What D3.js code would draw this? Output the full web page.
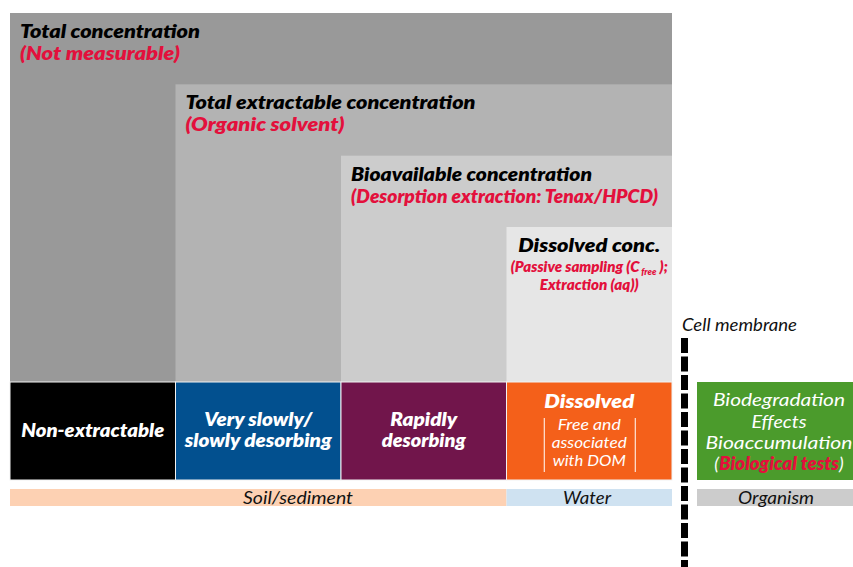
<!DOCTYPE html>
<html>
<head>
<meta charset="utf-8">
<script src="https://cdn.jsdelivr.net/npm/d3@7"></script>
<style>
  body { margin: 0; background: #fff; }
  svg text { font-family: Lato, "Open Sans", sans-serif; font-style: italic; }
</style>
</head>
<body>
<div id="chart"></div>
<script>
// concentration levels (nested grey boxes)
const levelTitles = ["Total concentration", "Total extractable concentration", "Bioavailable concentration", "Dissolved conc."];
const levelMethods = ["(Not measurable)", "(Organic solvent)", "(Desorption extraction: Tenax/HPCD)", null];
const levelFills = ["#999999", "#b3b3b3", "#cccccc", "#e6e6e6"];
const titleWidths = [180, 290, 241, 142];
const methodWidths = [160, 159, 307, null];

// fractions (coloured boxes)
const fractions = ["Non-extractable", "Very slowly/ slowly desorbing", "Rapidly desorbing", "Dissolved"];
const fractionLines = [["Non-extractable"], ["Very slowly/", "slowly desorbing"], ["Rapidly", "desorbing"], ["Dissolved"]];
const fractionLineWidths = [[143], [108, 147], [67, 84], [90]];
const fractionFills = ["#000000", "#02508f", "#71154b", "#f4601a"];
const dissolvedNote = ["Free and", "associated", "with DOM"];
const dissolvedNoteWidths = [63, 75, 73];

// compartments
const compartments = ["Soil/sediment", "Water"];
const compartmentSpan = [[0, 2], [3, 3]];
const compartmentFills = ["#fdd1b3", "#cfe2f1"];
const compartmentWidths = [110, 48];

const organismLines = ["Biodegradation", "Effects", "Bioaccumulation"];
const organismWidths = [132, 55, 147];

function draw() {
  const W = 853, H = 567;
  const red = "#e3103c";
  const fs = 18.5;
  const heavy = 800;
  const svg = d3.select('#chart').append('svg')
    .attr('width', W).attr('height', H);

  let x = d3.scaleBand().domain(fractions).range([10, 672]);
  let yLevel = d3.scaleLinear().domain([0, 3]).range([13, 227]);
  const boxTop = 382, boxBottom = 480;

  // nested level boxes
  levelTitles.forEach((t, i) => {
    svg.append('rect')
      .attr('x', x(fractions[i])).attr('y', yLevel(i))
      .attr('width', 672 - x(fractions[i]))
      .attr('height', boxTop - yLevel(i))
      .attr('fill', levelFills[i]);
  });

  // level labels: title + method in one text
  levelTitles.slice(0, 3).forEach((t, i) => {
    let x0 = x(fractions[i]) + 10, y0 = yLevel(i);
    let txt = svg.append('text').attr('x', x0).attr('y', y0 + 25)
      .attr('font-size', fs).attr('font-weight', heavy);
    txt.append('tspan').attr('fill', '#000')
      .attr('textLength', titleWidths[i]).attr('lengthAdjust', 'spacingAndGlyphs').text(t);
    txt.append('tspan').attr('x', x0).attr('dy', 22).attr('fill', red)
      .attr('textLength', methodWidths[i]).attr('lengthAdjust', 'spacingAndGlyphs').text(levelMethods[i]);
  });

  // dissolved conc. label
  let cx3 = x(fractions[3]) + x.bandwidth() / 2;
  let dt = svg.append('text').attr('x', cx3).attr('y', yLevel(3) + 25).attr('text-anchor', 'middle')
    .attr('font-weight', heavy);
  dt.append('tspan').attr('font-size', fs)
    .attr('textLength', titleWidths[3]).attr('lengthAdjust', 'spacingAndGlyphs').text(levelTitles[3]);
  dt.append('tspan').attr('x', cx3).attr('dy', 20).attr('font-size', 15)
    .attr('fill', red).text('(Passive sampling (C');
  dt.append('tspan').attr('font-size', 9).attr('dy', 3).attr('fill', red).text(' free');
  dt.append('tspan').attr('dy', -3).attr('font-size', 15).attr('fill', red).text(' );');
  dt.append('tspan').attr('x', cx3).attr('dy', 18).attr('font-size', 15)
    .attr('fill', red).attr('textLength', 99).attr('lengthAdjust', 'spacingAndGlyphs').text('Extraction (aq))');

  // fraction boxes
  fractions.forEach((f, i) => {
    svg.append('rect')
      .attr('x', x(f)).attr('y', boxTop)
      .attr('width', x.bandwidth()).attr('height', boxBottom - boxTop)
      .attr('fill', fractionFills[i])
      .attr('stroke', '#f2f2f2').attr('stroke-width', 1);
    let cx = x(f) + x.bandwidth() / 2;
    let lines = fractionLines[i];
    let start = (i === 3) ? 408 : 437 - (lines.length - 1) * 11;
    let ft = svg.append('text').attr('x', cx).attr('y', start)
      .attr('text-anchor', 'middle').attr('font-size', i === 3 ? 19.5 : fs).attr('font-weight', heavy)
      .attr('fill', '#fff');
    lines.forEach((l, j) => {
      ft.append('tspan').attr('x', cx).attr('dy', j === 0 ? 0 : 21)
        .attr('textLength', fractionLineWidths[i][j]).attr('lengthAdjust', 'spacingAndGlyphs').text(l);
    });
  });

  // dissolved note with brackets
  let cxD = x(fractions[3]) + x.bandwidth() / 2;
  let nt = svg.append('text').attr('x', cxD).attr('y', 430)
    .attr('text-anchor', 'middle').attr('font-size', 15.5).attr('fill', '#fff');
  dissolvedNote.forEach((l, j) => {
    nt.append('tspan').attr('x', cxD).attr('dy', j === 0 ? 0 : 18)
      .attr('textLength', dissolvedNoteWidths[j]).attr('lengthAdjust', 'spacingAndGlyphs').text(l);
  });
  [-45, 46].forEach(dx => {
    svg.append('line').attr('x1', cxD + dx).attr('x2', cxD + dx)
      .attr('y1', 418).attr('y2', 472).attr('stroke', '#fff').attr('stroke-width', 1);
  });

  // compartment bands
  const labelX = [298, 587];
  compartments.forEach((c, i) => {
    let a = fractions[compartmentSpan[i][0]], b = fractions[compartmentSpan[i][1]];
    let x0 = x(a), x1 = x(b) + x.bandwidth();
    svg.append('rect').attr('x', x0).attr('y', 489).attr('width', x1 - x0).attr('height', 17)
      .attr('fill', compartmentFills[i]);
    svg.append('text').attr('x', labelX[i]).attr('y', 503.5).attr('text-anchor', 'middle')
      .attr('font-size', 17).attr('fill', '#111')
      .attr('textLength', compartmentWidths[i]).attr('lengthAdjust', 'spacingAndGlyphs').text(c);
  });

  // cell membrane
  svg.append('line').attr('x1', 684.5).attr('x2', 684.5).attr('y1', 338).attr('y2', H)
    .attr('stroke', '#000').attr('stroke-width', 7).attr('stroke-dasharray', '15,3.5');
  svg.append('text').attr('x', 682).attr('y', 331).attr('font-size', 17).attr('fill', '#111')
    .attr('textLength', 115).attr('lengthAdjust', 'spacingAndGlyphs').text('Cell membrane');

  // organism box
  const ox = 697;
  svg.append('rect').attr('x', ox).attr('y', boxTop).attr('width', W - ox).attr('height', boxBottom - boxTop)
    .attr('fill', '#4b9b2c');
  let ocx = 779;
  let ot = svg.append('text').attr('x', ocx).attr('y', 406).attr('text-anchor', 'middle')
    .attr('font-size', 18).attr('fill', '#fff');
  organismLines.forEach((l, j) => {
    ot.append('tspan').attr('x', ocx).attr('dy', j === 0 ? 0 : 21.5)
      .attr('textLength', organismWidths[j]).attr('lengthAdjust', 'spacingAndGlyphs').text(l);
  });
  ot.append('tspan').attr('x', ocx).attr('dy', 20.5).text('(');
  ot.append('tspan').attr('fill', red).attr('font-weight', heavy)
    .attr('textLength', 120).attr('lengthAdjust', 'spacingAndGlyphs').text('Biological tests');
  ot.append('tspan').text(')');

  svg.append('rect').attr('x', ox).attr('y', 489).attr('width', W - ox).attr('height', 17).attr('fill', '#cccccc');
  svg.append('text').attr('x', 776).attr('y', 503.5).attr('text-anchor', 'middle')
    .attr('font-size', 17).attr('fill', '#111')
    .attr('textLength', 76).attr('lengthAdjust', 'spacingAndGlyphs').text('Organism');
}
draw();
</script>
</body>
</html>
